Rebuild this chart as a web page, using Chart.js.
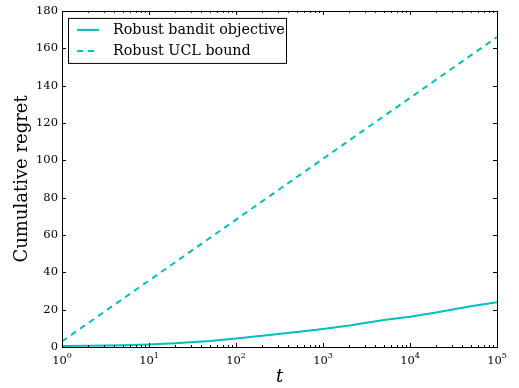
<!DOCTYPE html>
<html>
<head>
<meta charset="utf-8">
<script src="https://cdn.jsdelivr.net/npm/chart.js@4.4.1/dist/chart.umd.min.js"></script>
<style>
  html, body { margin: 0; padding: 0; background: #fff; }
  #wrap { width: 519px; height: 388px; }
</style>
</head>
<body>
<div id="wrap"><canvas id="grafikas" width="519" height="388"></canvas></div>
<script>
// data
var tValues = [1, 2, 5, 10, 20, 50, 100, 200, 500, 1000, 2000, 5000, 10000, 20000, 50000, 100000];
var banditRegret = [0.5, 0.7, 1.0, 1.4, 2.0, 3.2, 4.6, 6.0, 8.0, 9.6, 11.5, 14.5, 16.2, 18.5, 21.8, 24.0];
var boundT = [1, 10, 100, 1000, 10000, 100000];
var uclBound = [3.0, 35.6, 68.2, 100.8, 133.4, 166.0];
var yTicks = [0, 20, 40, 60, 80, 100, 120, 140, 160, 180];
var xDecades = [0, 1, 2, 3, 4, 5];
var seriesNames = ['Robust bandit objective', 'Robust UCL bound'];

var cyan = '#00bfbf';
var serif = "'DejaVu Serif', serif";

function toPoints(xs, ys) {
    return xs.map(function(x, i) { return { x: x, y: ys[i] }; });
}

// inward ticks, frame, x labels with superscripts, legend inside plot
var decor = {
    id: 'decor',
    afterDraw: function(chart) {
        var ctx = chart.ctx;
        var a = chart.chartArea;
        var xs = chart.scales.x, ys = chart.scales.y;
        ctx.save();
        ctx.strokeStyle = '#000';
        ctx.lineWidth = 1;

        // y ticks left + right
        yTicks.forEach(function(v) {
            var py = Math.round(ys.getPixelForValue(v)) + 0.5;
            ctx.beginPath();
            ctx.moveTo(a.left, py); ctx.lineTo(a.left + 4, py);
            ctx.moveTo(a.right, py); ctx.lineTo(a.right - 4, py);
            ctx.stroke();
        });
        // x ticks top + bottom, major and minor
        for (var d = 0; d <= 5; d++) {
            for (var m = 1; m <= 9; m++) {
                var v = m * Math.pow(10, d);
                if (v > 100000) break;
                var px = Math.round(xs.getPixelForValue(v)) + 0.5;
                var len = (m === 1) ? 4 : 2;
                ctx.beginPath();
                ctx.moveTo(px, a.bottom); ctx.lineTo(px, a.bottom - len);
                ctx.moveTo(px, a.top); ctx.lineTo(px, a.top + len);
                ctx.stroke();
            }
        }
        // frame
        ctx.strokeRect(Math.round(a.left) + 0.5, Math.round(a.top) + 0.5,
            Math.round(a.right - a.left), Math.round(a.bottom - a.top));

        // x tick labels 10^k
        ctx.fillStyle = '#000';
        ctx.textBaseline = 'alphabetic';
        xDecades.forEach(function(k) {
            var px = xs.getPixelForValue(Math.pow(10, k));
            ctx.font = '11.5px ' + serif;
            var w1 = ctx.measureText('10').width;
            ctx.font = '8px ' + serif;
            var w2 = ctx.measureText(String(k)).width;
            var left = px - (w1 + w2) / 2;
            ctx.font = '11.5px ' + serif;
            ctx.textAlign = 'left';
            ctx.fillText('10', left, a.bottom + 17);
            ctx.font = '8px ' + serif;
            ctx.fillText(String(k), left + w1, a.bottom + 11);
        });

        // legend
        var lx = a.left + 6, ly = a.top + 7, lw = 218, lh = 45;
        ctx.fillStyle = '#fff';
        ctx.fillRect(lx, ly, lw, lh);
        ctx.strokeStyle = '#000';
        ctx.strokeRect(lx + 0.5, ly + 0.5, lw, lh);
        ctx.font = '14.3px ' + serif;
        ctx.textAlign = 'left';
        ctx.textBaseline = 'middle';
        chart.data.datasets.forEach(function(ds, i) {
            var cy = ly + 12 + i * 21;
            ctx.strokeStyle = ds.borderColor;
            ctx.lineWidth = 2;
            ctx.setLineDash(ds.borderDash || []);
            ctx.beginPath();
            ctx.moveTo(lx + 9, cy); ctx.lineTo(lx + 31, cy);
            ctx.stroke();
            ctx.setLineDash([]);
            ctx.fillStyle = '#000';
            ctx.fillText(ds.label, lx + 45, cy);
        });
        ctx.restore();
    }
};

var ctx = document.getElementById('grafikas').getContext('2d');
var regretChart = new Chart(ctx, {
    type: 'line',
    data: {
        datasets: [
            {
                label: seriesNames[0],
                data: toPoints(tValues, banditRegret),
                borderColor: cyan,
                borderWidth: 2,
                pointRadius: 0,
                fill: false
            },
            {
                label: seriesNames[1],
                data: toPoints(boundT, uclBound),
                borderColor: cyan,
                borderWidth: 2,
                borderDash: [6, 5],
                pointRadius: 0,
                fill: false
            }
        ]
    },
    options: {
        responsive: false,
        animation: false,
        layout: { padding: { top: 10, right: 22, left: 0, bottom: 0 } },
        plugins: { legend: { display: false }, tooltip: { enabled: false } },
        scales: {
            x: {
                type: 'logarithmic',
                min: 1,
                max: 100000,
                grid: { display: false, drawTicks: false },
                border: { display: false },
                ticks: { display: false },
                title: {
                    display: true,
                    text: 't',
                    color: '#000',
                    font: { family: serif, size: 18, style: 'italic' },
                    padding: { top: 0, bottom: 0 }
                },
                afterFit: function(scale) { scale.height = 41; }
            },
            y: {
                min: 0,
                max: 180,
                grid: { display: false, drawTicks: false },
                border: { display: false },
                afterBuildTicks: function(scale) {
                    scale.ticks = yTicks.map(function(v) { return { value: v }; });
                },
                ticks: {
                    color: '#000',
                    padding: 4,
                    font: { family: serif, size: 11.5 }
                },
                title: {
                    display: true,
                    text: 'Cumulative regret',
                    color: '#000',
                    font: { family: serif, size: 18 },
                    padding: { top: 12, bottom: 0 }
                },
                afterFit: function(scale) { scale.width = 62; }
            }
        }
    },
    plugins: [decor]
});
</script>
</body>
</html>
